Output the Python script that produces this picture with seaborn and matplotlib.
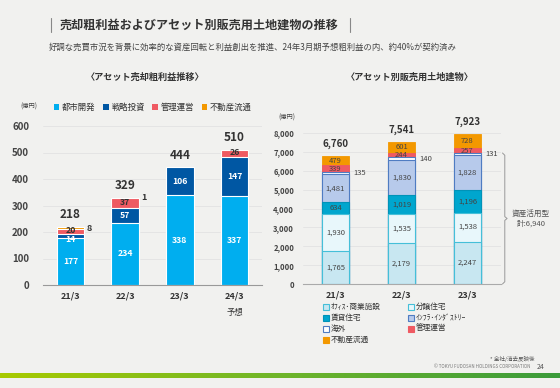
import numpy as np
import seaborn as sns
import matplotlib.pyplot as plt
from matplotlib.lines import Line2D
from matplotlib.patches import Patch, Rectangle
from matplotlib.colors import LinearSegmentedColormap

# アセット売却粗利益推移 (億円)
gp_years = ['21/3', '22/3', '23/3', '24/3']
gp_urban = [177, 234, 338, 337]
gp_strategic = [14, 57, 106, 147]
gp_mgmt = [20, 37, 0, 26]
gp_dist = [8, 1, 0, 0]
gp_totals = [218, 329, 444, 510]

# アセット別販売用土地建物 (億円)
inv_years = ['21/3', '22/3', '23/3']
inv_office = [1765, 2179, 2247]
inv_condo = [1930, 1535, 1538]
inv_rental = [634, 1019, 1196]
inv_infra = [1481, 1830, 1828]
inv_overseas = [135, 140, 131]
inv_mgmt = [339, 244, 257]
inv_dist = [479, 601, 728]
inv_totals = [6760, 7541, 7923]
inv_names = ['ｵﾌｨｽ･商業施設', '分譲住宅', '賃貸住宅', 'ｲﾝﾌﾗ･ｲﾝﾀﾞｽﾄﾘｰ', '海外', '管理運営',
             '不動産流通']

BG = '#F1F1EF'
DARK = '#333333'


def stacked(ax, cats, layers, width):
    ''' draw stacked bars as cumulative bars, top layer first '''
    tops = np.cumsum([np.array(l[0], dtype=float) for l in layers], axis=0)
    for (vals, face, edge, lw), top in reversed(list(zip(layers, tops))):
        sns.barplot(x=cats, y=top, order=cats, color=face, edgecolor=edge,
                    linewidth=lw, width=width, saturation=1, errorbar=None, ax=ax)
    return tops


def main():
    sns.set_style('white')
    plt.rcParams['font.family'] = ['Noto Sans CJK JP', 'DejaVu Sans']

    fig = plt.figure(figsize=(5.6, 3.88), dpi=100, facecolor=BG)

    # Header.
    fig.text(60 / 560, 1 - 25 / 388, '売却粗利益およびアセット別販売用土地建物の推移',
             fontsize=8.7, fontweight='bold', color=DARK, va='center')
    for xp in (51, 350):
        fig.add_artist(Line2D([xp / 560, xp / 560], [1 - 18 / 388, 1 - 32 / 388],
                              color='#888888', lw=0.8))
    fig.text(49 / 560, 1 - 47 / 388,
             '好調な売買市況を背景に効率的な資産回転と利益創出を推進、24年3月期予想粗利益の内、約40%が契約済み',
             fontsize=6, color='#444444', va='center')
    fig.text(145 / 560, 1 - 77 / 388, '〈アセット売却粗利益推移〉', fontsize=6.6,
             fontweight='bold', color=DARK, ha='center', va='center')
    fig.text(410 / 560, 1 - 77 / 388, '〈アセット別販売用土地建物〉', fontsize=6.6,
             fontweight='bold', color=DARK, ha='center', va='center')

    # ---------------- left chart ----------------
    c_urban, c_strat, c_mgmt, c_dist = '#00AEEF', '#0057A3', '#EF5A62', '#F39800'
    ax1 = fig.add_axes([43 / 560, 103 / 388, 219 / 560, 159 / 388])
    ax1.set_facecolor(BG)
    layers = [(gp_urban, c_urban, 'white', 0.8), (gp_strategic, c_strat, 'white', 0.8),
              (gp_mgmt, c_mgmt, 'white', 0.8), (gp_dist, c_dist, 'white', 0.8)]
    w1 = 0.5
    tops = stacked(ax1, gp_years, layers, w1)
    ax1.set_ylim(0, 600)
    ax1.set_xlim(-0.5, 3.5)
    ax1.set_yticks(range(0, 601, 100))
    ax1.set_yticklabels([str(v) for v in range(0, 601, 100)], fontsize=7,
                        fontweight='bold', color='#444444')
    ax1.tick_params(axis='y', length=0, pad=10)
    ax1.tick_params(axis='x', length=0, pad=5, labelsize=6.5, labelcolor=DARK)
    for lab in ax1.get_xticklabels():
        lab.set_fontweight('bold')
    ax1.set_xticks(np.arange(-0.5, 4, 1), minor=True)
    ax1.tick_params(axis='x', which='minor', length=3, color='#999999', width=0.6)
    ax1.yaxis.grid(True, color='#E2E2E2', lw=0.6)
    ax1.set_axisbelow(True)
    sns.despine(ax=ax1, left=True)
    ax1.spines['bottom'].set_color('#999999')
    ax1.spines['bottom'].set_linewidth(0.8)
    ax1.set_xlabel('')
    ax1.set_ylabel('')
    ax1.annotate('予想', xy=(3, 0), xycoords=('data', 'axes fraction'), xytext=(0, -20),
                 textcoords='offset points', ha='center', va='center', fontsize=6,
                 color=DARK)

    bottoms = np.vstack([np.zeros(len(gp_years)), tops[:-1]])
    for li, (vals, *_rest) in enumerate(layers):
        for i, v in enumerate(vals):
            if v == 0:
                continue
            mid = bottoms[li][i] + v / 2
            if li == 3:
                ax1.text(i + w1 / 2 + 0.04, mid, str(v), fontsize=6.5, fontweight='bold',
                         color=DARK, ha='left', va='center')
                continue
            # thin segments: nudge labels apart
            if v < 30:
                mid += -12 if li == 1 else 4
            col = DARK if li == 2 else 'white'
            ax1.text(i, mid, str(v), fontsize=6.3, fontweight='bold', color=col,
                     ha='center', va='center')
    for i, t in enumerate(gp_totals):
        ax1.annotate(str(t), xy=(i, tops[-1][i]), xytext=(0, 4), textcoords='offset points',
                     ha='center', va='bottom', fontsize=8.5, fontweight='bold', color=DARK,
                     annotation_clip=False)

    fig.text(20 / 560, 1 - 107 / 388, '(億円)', fontsize=4.5, color='#444444', va='center')
    h1 = [Patch(facecolor=c, edgecolor='none') for c in (c_urban, c_strat, c_mgmt, c_dist)]
    fig.legend(h1, ['都市開発', '戦略投資', '管理運営', '不動産流通'], loc='center left',
               bbox_to_anchor=(46 / 560, 1 - 107 / 388), ncol=4, frameon=False,
               fontsize=6, handlelength=0.7, handleheight=0.7, handletextpad=0.3,
               columnspacing=0.9, labelcolor=DARK)

    # ---------------- right chart ----------------
    r_layers = [
        (inv_office, '#C8E7F1', '#45BFD8', 0.8),
        (inv_condo, '#E8F7FB', '#45BFD8', 0.8),
        (inv_rental, '#00A6CE', '#0093B8', 0.8),
        (inv_infra, '#B7CAEB', '#4F7CC2', 0.8),
        (inv_overseas, '#FFFFFF', '#4F7CC2', 0.8),
        (inv_mgmt, '#EF5A62', '#EF5A62', 0.6),
        (inv_dist, '#F39800', '#F39800', 0.6),
    ]
    ax2 = fig.add_axes([302.5 / 560, 104 / 388, 198 / 560, 151 / 388])
    ax2.set_facecolor(BG)
    w2 = 0.41
    rtops = stacked(ax2, inv_years, r_layers, w2)
    ax2.set_ylim(0, 8000)
    ax2.set_xlim(-0.5, 2.5)
    yt = list(range(0, 8001, 1000))
    ax2.set_yticks(yt)
    ax2.set_yticklabels([f'{v:,}' for v in yt], fontsize=5.5, fontweight='bold',
                        color='#444444')
    ax2.tick_params(axis='y', length=0, pad=6)
    ax2.tick_params(axis='x', length=0, pad=5, labelsize=6.5, labelcolor=DARK)
    for lab in ax2.get_xticklabels():
        lab.set_fontweight('bold')
    ax2.yaxis.grid(True, color='#E2E2E2', lw=0.6)
    ax2.set_axisbelow(True)
    sns.despine(ax=ax2, left=True)
    ax2.spines['bottom'].set_color('#AAAAAA')
    ax2.spines['bottom'].set_linewidth(0.8)
    ax2.set_xlabel('')
    ax2.set_ylabel('')

    rbottoms = np.vstack([np.zeros(len(inv_years)), rtops[:-1]])
    for li, (vals, *_rest) in enumerate(r_layers):
        for i, v in enumerate(vals):
            mid = rbottoms[li][i] + v / 2
            if li == 4:
                ax2.text(i + w2 / 2 + 0.06, mid, f'{v:,}', fontsize=5.5, color='#444444',
                         ha='left', va='center')
            else:
                ax2.text(i, mid, f'{v:,}', fontsize=5.5, color='#444444',
                         ha='center', va='center')
    for i, t in enumerate(inv_totals):
        ax2.annotate(f'{t:,}', xy=(i, rtops[-1][i]), xytext=(0, 5), textcoords='offset points',
                     ha='center', va='bottom', fontsize=7, fontweight='bold', color=DARK,
                     annotation_clip=False)

    # brace for 資産活用型 (first five layers of 23/3)
    asset_total = int(rtops[4][-1])
    bx, bw = 2.53, 0.035
    ax2.plot([bx, bx + bw, bx + bw, bx + 2 * bw, bx + bw, bx + bw, bx],
             [0, 120, asset_total / 2 - 100, asset_total / 2, asset_total / 2 + 100,
              asset_total - 120, asset_total],
             color='#999999', lw=0.7, clip_on=False)
    ax2.text(2.96, asset_total / 2, f'資産活用型\n計:{asset_total:,}', fontsize=5.5,
             color='#555555', ha='center', va='center', linespacing=1.3)

    fig.text(278 / 560, 1 - 118 / 388, '(億円)', fontsize=4.5, color='#444444', va='center')

    # legend below the right chart: two columns, filled column first
    order = [0, 2, 4, 6, 1, 3, 5]
    for n, k in enumerate(order):
        col, row = divmod(n, 4)
        x0 = (326 + 85 * col) / 560
        y0 = 1 - (307 + 11 * row) / 388
        fig.add_artist(Rectangle((x0 - 2.8 / 560, y0 - 2.8 / 388), 5.6 / 560, 5.6 / 388,
                                 facecolor=r_layers[k][1], edgecolor=r_layers[k][2],
                                 lw=0.8, transform=fig.transFigure))
        fig.text(x0 + 5 / 560, y0, inv_names[k], fontsize=5.5, color=DARK, va='center')

    # Footer.
    fig.text(535 / 560, 1 - 359 / 388, '* 全社/消去反映後', fontsize=4, color='#555555',
             ha='right', va='center')
    fig.text(530 / 560, 1 - 367 / 388, '© TOKYU FUDOSAN HOLDINGS CORPORATION', fontsize=3.2,
             color='#777777', ha='right', va='center')
    fig.text(537 / 560, 1 - 367 / 388, '24', fontsize=5, color='#555555', ha='left',
             va='center')
    gax = fig.add_axes([0, 1 - 378 / 388, 1, 5 / 388])
    grad = np.linspace(0, 1, 256)[None, :]
    cmap = LinearSegmentedColormap.from_list('g', ['#A8CA00', '#6FB52A', '#3B9B3B'])
    gax.imshow(grad, aspect='auto', cmap=cmap)
    gax.axis('off')

    plt.savefig('out.png', dpi=100, facecolor=BG)
    plt.close()


if __name__ == "__main__":
    main()
